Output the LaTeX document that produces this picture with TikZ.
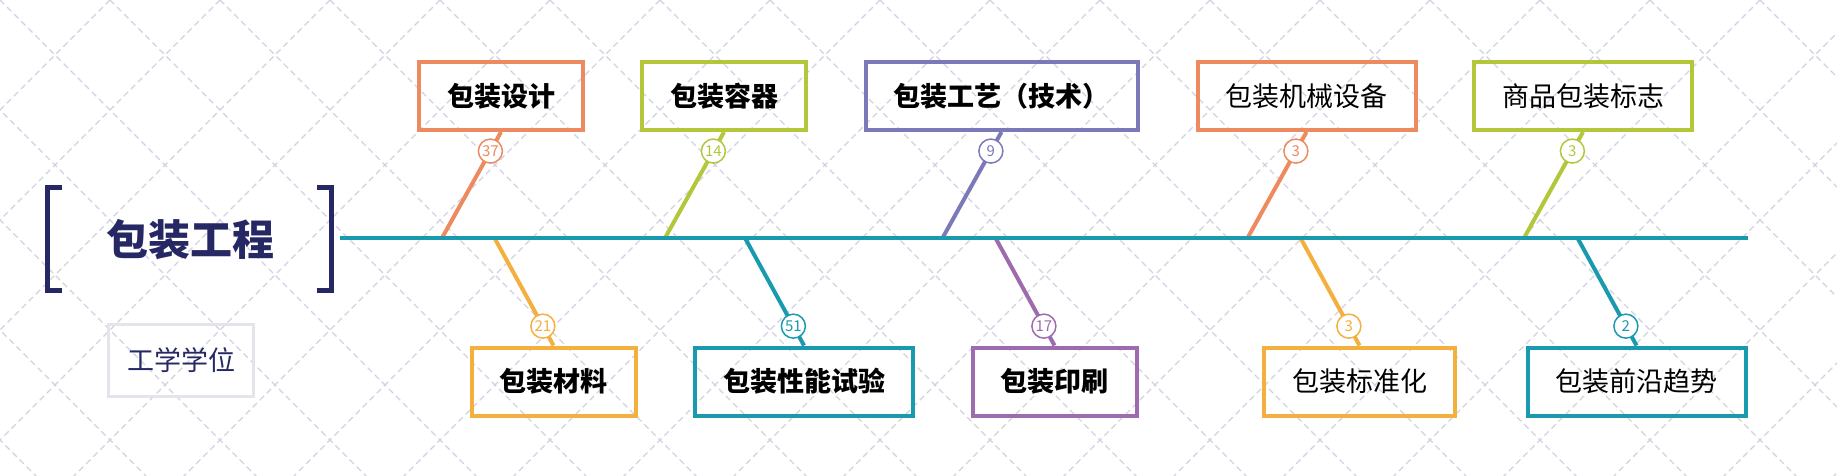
\documentclass[tikz,border=0pt]{standalone}
\usepackage{fontspec}
\setmainfont{Noto Sans CJK SC}
\definecolor{salmon}{RGB}{238,138,95}
\definecolor{lime}{RGB}{180,199,58}
\definecolor{violet}{RGB}{124,121,185}
\definecolor{amber}{RGB}{244,176,62}
\definecolor{teal}{RGB}{26,154,175}
\definecolor{plum}{RGB}{157,107,174}
\definecolor{navy}{RGB}{38,40,100}
\definecolor{gridline}{RGB}{208,210,226}
\definecolor{frame}{RGB}{228,229,235}

\begin{document}
\begin{tikzpicture}[x=0.5pt,y=-0.5pt,
  box/.style={draw=#1,line width=2pt,minimum height=34pt,inner xsep=14pt,font=\fontsize{13.5pt}{16pt}\selectfont},
  bone/.style={draw=#1,line width=2pt},
  num/.style={circle,draw=#1,text=#1,fill=white,line width=0.75pt,minimum size=12pt,inner sep=0pt,font=\fontsize{7.5pt}{8pt}\selectfont},
  bracket/.style={draw=navy,line width=2.5pt},
  grid/.style={draw=gridline,line width=0.55pt,dash pattern=on 3pt off 2pt}]
\useasboundingbox (0,0) rectangle (1837,476);
\fill[white] (0,0) rectangle (1837,476);

\begin{scope}
\clip (0,0) rectangle (1837,476);
\foreach \k in {-5,...,22}
{
     \draw[grid] (110*\k,0) -- ++(500,500);
     \draw[grid] (110*\k,0) -- ++(-500,500);
}
\end{scope}

\node[font=\fontsize{21pt}{24pt}\selectfont\bfseries, text=navy] at (190,240) (21) {包装工程};
\draw[bracket] (62,187) -- (47,187) -- (47,290) -- (62,290);
\draw[bracket] (317,187) -- (331,187) -- (331,290) -- (317,290);
\node[draw=frame, line width=1.5pt, minimum width=72.5pt, minimum height=36pt, text=navy,
      font=\fontsize{13.5pt}{16pt}\selectfont] at (181,360) (22) {工学学位};

\node[box=salmon] at (501,96) (1) {\textbf{包装设计}};
\node[box=lime] at (724,96) (2) {\textbf{包装容器}};
\node[box=violet] at (1001.5,96) (3) {\textbf{包装工艺（技术）}};
\node[box=salmon] at (1306.5,96) (4) {包装机械设备};
\node[box=lime] at (1583,96) (5) {商品包装标志};

\node[box=amber] at (553.5,381.5) (6) {\textbf{包装材料}};
\node[box=teal] at (804,381.5) (7) {\textbf{包装性能试验}};
\node[box=plum] at (1054.5,381.5) (8) {\textbf{包装印刷}};
\node[box=amber] at (1359.5,381.5) (9) {包装标准化};
\node[box=teal] at (1636.5,381.5) (10) {包装前沿趋势};

\coordinate (11) at (442,238);
\coordinate (12) at (665,238);
\coordinate (13) at (942.5,238);
\coordinate (14) at (1247.5,238);
\coordinate (15) at (1524,238);
\coordinate (16) at (494.5,238);
\coordinate (17) at (745,238);
\coordinate (18) at (995.5,238);
\coordinate (19) at (1300.5,238);
\coordinate (20) at (1577.5,238);
\coordinate (23) at (340,238);
\coordinate (24) at (1748,238);

\foreach \b/\s/\n/\c in {1/11/37/salmon, 2/12/14/lime, 3/13/9/violet, 4/14/3/salmon, 5/15/3/lime}
{
     \draw[bone=\c] (\b.south) -- node[num=\c, pos=0.18] {\n} (\s);
}
\foreach \b/\s/\n/\c in {6/16/21/amber, 7/17/51/teal, 8/18/17/plum, 9/19/3/amber, 10/20/2/teal}
{
     \draw[bone=\c] (\b.north) -- node[num=\c, pos=0.18] {\n} (\s);
}

\draw[teal, line width=2.2pt] (23) -- (24);

\end{tikzpicture}
\end{document}
